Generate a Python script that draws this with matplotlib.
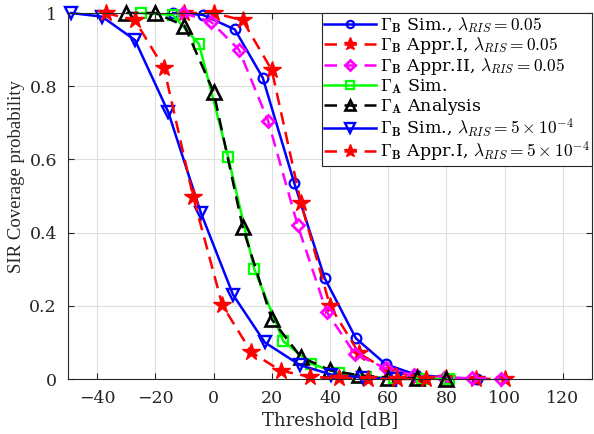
import numpy as np
import matplotlib
matplotlib.use("Agg")
import matplotlib.pyplot as plt

plt.rcParams['font.family'] = 'DejaVu Serif'
plt.rcParams['mathtext.fontset'] = 'cm'

# Gamma_B, lambda_RIS = 0.05 (simulation)
thr_b_sim = [-13.9, -3.7, 7.3, 16.9, 27.7, 38.2, 48.9, 59.2, 69.5, 80.0, 90.5]
cov_b_sim = [1.0, 0.995, 0.955, 0.823, 0.536, 0.275, 0.111, 0.04, 0.012, 0.004, 0.001]

# Gamma_B, lambda_RIS = 0.05 (approximation I)
thr_b_app1 = [-10, 0, 10, 20, 30, 40, 50, 60, 70, 80, 90, 100]
cov_b_app1 = [1.0, 1.0, 0.98, 0.844, 0.482, 0.2, 0.07, 0.022, 0.006, 0.002, 0.0005, 0.0]

# Gamma_B, lambda_RIS = 0.05 (approximation II)
thr_b_app2 = [-10.5, -0.9, 8.7, 18.7, 28.9, 38.8, 48.6, 59.2, 69.0, 79.0, 88.9, 98.8]
cov_b_app2 = [1.0, 0.976, 0.90, 0.706, 0.42, 0.184, 0.068, 0.029, 0.01, 0.003, 0.002, 0.0]

# Gamma_A simulation / analysis
thr_a_sim = [-25, -14, -5, 5, 14, 24, 33.5, 43, 52.5, 62, 71.5, 81]
cov_a_sim = [1.0, 0.995, 0.915, 0.607, 0.30, 0.103, 0.042, 0.016, 0.006, 0.002, 0.001, 0.0]
thr_a_ana = [-30, -20, -10, 0, 10, 20, 30, 40, 50, 60, 70, 80]
cov_a_ana = [1.0, 1.0, 0.965, 0.785, 0.415, 0.163, 0.06, 0.024, 0.01, 0.004, 0.002, 0.001]

# Gamma_B, lambda_RIS = 5e-4 (simulation / approximation I)
thr_b_sim_lo = [-49, -38.3, -27, -15.6, -4.3, 6.7, 17.6, 29.7, 40.5, 51.5, 62.5]
cov_b_sim_lo = [1.0, 0.99, 0.926, 0.73, 0.453, 0.23, 0.10, 0.038, 0.012, 0.004, 0.001]
thr_b_app1_lo = [-37, -27, -17, -7, 3, 13, 23, 33, 43, 53, 63, 73]
cov_b_app1_lo = [1.0, 0.98, 0.849, 0.498, 0.202, 0.073, 0.023, 0.006, 0.002, 0.001, 0.0, 0.0]

labels = [
    r'$\Gamma_{\mathbf{B}}$ Sim., $\lambda_{RIS} = 0.05$',
    r'$\Gamma_{\mathbf{B}}$ Appr.I, $\lambda_{RIS} = 0.05$',
    r'$\Gamma_{\mathbf{B}}$ Appr.II, $\lambda_{RIS} = 0.05$',
    r'$\Gamma_{\mathbf{A}}$ Sim.',
    r'$\Gamma_{\mathbf{A}}$ Analysis',
    r'$\Gamma_{\mathbf{B}}$ Sim., $\lambda_{RIS} = 5 \times 10^{-4}$',
    r'$\Gamma_{\mathbf{B}}$ Appr.I, $\lambda_{RIS} = 5 \times 10^{-4}$',
]

fig = plt.figure(figsize=(5.94, 4.34), dpi=100)
ax = fig.add_axes([68 / 594, 1 - 379 / 434, (592 - 68) / 594, (379 - 13) / 434])

lw = 1.8
dash = (5, 3)
common = dict(lw=lw, clip_on=False)
ax.plot(thr_b_sim, cov_b_sim, '-', color='#0000ff', marker='o', ms=7,
        mfc='none', mew=1.6, label=labels[0], **common)
ax.plot(thr_b_app1, cov_b_app1, '--', dashes=dash, color='#ff0000', marker='*',
        ms=13, mfc='#ff0000', mew=1, label=labels[1], **common)
ax.plot(thr_b_app2, cov_b_app2, '--', dashes=dash, color='#ff00ff', marker='D',
        ms=6.5, mfc='none', mew=2, label=labels[2], **common)
ax.plot(thr_a_sim, cov_a_sim, '-', color='#00ff00', marker='s', ms=7,
        mfc='none', mew=1.6, label=labels[3], **common)
ax.plot(thr_a_ana, cov_a_ana, '--', dashes=dash, color='black', marker='^',
        ms=10, mfc='none', mew=1.9, label=labels[4], **common)
ax.plot(thr_b_sim_lo, cov_b_sim_lo, '-', color='#0000ff', marker='v', ms=9,
        mfc='none', mew=1.7, label=labels[5], **common)
ax.plot(thr_b_app1_lo, cov_b_app1_lo, '--', dashes=dash, color='#ff0000',
        marker='*', ms=13, mfc='#ff0000', mew=1, label=labels[6], **common)

ax.set_xlim(-50, 130)
ax.set_ylim(0, 1)
ax.set_xticks(np.arange(-40, 121, 20))
ax.set_yticks([0, 0.2, 0.4, 0.6, 0.8, 1])
ax.set_yticklabels(['0', '0.2', '0.4', '0.6', '0.8', '1'])
ax.grid(True, color='#dfdfdf', lw=0.8)
ax.set_axisbelow(True)
ax.tick_params(direction='in', top=True, right=True, length=4, width=0.8,
               labelsize=12.5, colors='#262626', pad=8)
for sp in ax.spines.values():
    sp.set_color('#262626')
    sp.set_linewidth(0.8)

ax.set_xlabel('Threshold [dB]', fontsize=13, color='#262626', labelpad=3)
ax.set_ylabel('SIR Coverage probability', fontsize=13.5, color='#262626',
              family='Liberation Serif')
ax.yaxis.set_label_coords(-0.082, 0.552)

leg = ax.legend(loc='upper right', bbox_to_anchor=(1.0, 1.0), fontsize=12.5,
                handlelength=3.0, handletextpad=0.25, labelspacing=0.0,
                borderpad=0.1, borderaxespad=0, fancybox=False, framealpha=1,
                markerscale=0.75)
leg.get_frame().set_edgecolor('#262626')
leg.get_frame().set_linewidth(0.8)
leg.set_zorder(5)

fig.savefig('out.png', dpi=100)
